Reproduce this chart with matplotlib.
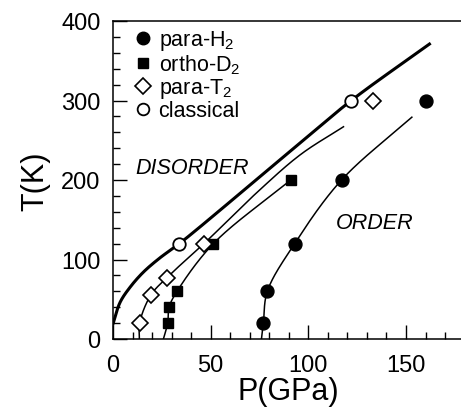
import numpy as np
import matplotlib.pyplot as plt
from matplotlib.lines import Line2D

plt.rcParams['font.family'] = 'Liberation Sans'
plt.rcParams['mathtext.fontset'] = 'custom'
plt.rcParams['mathtext.rm'] = 'Liberation Sans'
plt.rcParams['mathtext.it'] = 'Liberation Sans:italic'

# measured transition points (P in GPa, T in K)
p_h2 = [77, 79, 93, 117, 160]
t_h2 = [20, 60, 120, 200, 300]
p_d2 = [28, 28.7, 32.8, 51.4, 91]
t_d2 = [20, 40, 60, 120, 200]
p_t2 = [13.6, 19.3, 27.5, 46.6, 133]
t_t2 = [20, 55, 77, 120, 300]
p_cl = [34, 122]
t_cl = [120, 300]

# guide curves
curve_h2_p = [76, 77, 79, 93, 117, 153]
curve_h2_t = [0, 20, 60, 120, 200, 279]
curve_d2_p = [25.8, 28, 28.7, 32.8, 51.4, 91]
curve_d2_t = [0, 20, 40, 60, 120, 200]
curve_t2_p = [13.5, 13.6, 19.3, 27.5, 46.6, 74, 96, 118]
curve_t2_t = [0, 20, 55, 77, 120, 185, 232, 267]
curve_cl_p = [0, 3.6, 8.7, 15.5, 24, 34, 65, 95, 122, 162]
curve_cl_t = [19, 46, 65, 84, 102, 120, 183, 245, 300, 371]


def smooth(xs, ys, sy=0.41, n=40):
    # centripetal Catmull-Rom through the knots
    pts = np.column_stack([xs, np.asarray(ys, float) * sy])
    p = np.vstack([2 * pts[0] - pts[1], pts, 2 * pts[-1] - pts[-2]])
    out = []
    for i in range(1, len(p) - 2):
        p0, p1, p2, p3 = p[i - 1], p[i], p[i + 1], p[i + 2]
        t0 = 0.0
        t1 = t0 + np.linalg.norm(p1 - p0) ** 0.5
        t2 = t1 + np.linalg.norm(p2 - p1) ** 0.5
        t3 = t2 + np.linalg.norm(p3 - p2) ** 0.5
        t = np.linspace(t1, t2, n)[:, None]
        a1 = (t1 - t) / (t1 - t0) * p0 + (t - t0) / (t1 - t0) * p1
        a2 = (t2 - t) / (t2 - t1) * p1 + (t - t1) / (t2 - t1) * p2
        a3 = (t3 - t) / (t3 - t2) * p2 + (t - t2) / (t3 - t2) * p3
        b1 = (t2 - t) / (t2 - t0) * a1 + (t - t0) / (t2 - t0) * a2
        b2 = (t3 - t) / (t3 - t1) * a2 + (t - t1) / (t3 - t1) * a3
        out.append((t2 - t) / (t2 - t1) * b1 + (t - t1) / (t2 - t1) * b2)
    c = np.vstack(out)
    return c[:, 0], c[:, 1] / sy


fig = plt.figure(figsize=(4.61, 4.10), dpi=100)
ax = fig.add_axes([113 / 461, 70 / 410, 351.6 / 461, 318 / 410])

ax.plot(*smooth(curve_cl_p, curve_cl_t), color='black', lw=2.2, zorder=2)
ax.plot(*smooth(curve_t2_p, curve_t2_t), color='black', lw=1.1, zorder=2)
ax.plot(*smooth(curve_d2_p, curve_d2_t), color='black', lw=1.1, zorder=2)
ax.plot(*smooth(curve_h2_p, curve_h2_t), color='black', lw=1.1, zorder=2)

ax.plot(p_h2, t_h2, 'o', color='black', ms=9.3, zorder=3)
ax.plot(p_d2, t_d2, 's', color='black', ms=7.6, zorder=3)
ax.plot(p_t2, t_t2, 'D', mfc='white', mec='black', mew=1.2, ms=8.6, zorder=3)
ax.plot(p_cl, t_cl, 'o', mfc='white', mec='black', mew=1.3, ms=9, zorder=3)

ax.text(11.3, 216, 'DISORDER', fontsize=15.5, style='italic', va='center')
ax.text(114, 146, 'ORDER', fontsize=15.5, style='italic', va='center')

handles = [
    Line2D([], [], ls='none', marker='o', color='black', ms=9),
    Line2D([], [], ls='none', marker='s', color='black', ms=7.2),
    Line2D([], [], ls='none', marker='D', mfc='white', mec='black', mew=1.2, ms=8.6),
    Line2D([], [], ls='none', marker='o', mfc='white', mec='black', mew=1.3, ms=8.4),
]
labels = ['para-H$_2$', 'ortho-D$_2$', 'para-T$_2$', 'classical']
ax.legend(handles, labels, loc='upper left', bbox_to_anchor=(0.05, 0.99),
          frameon=False, fontsize=15.5, handlelength=0.8, handletextpad=0.3,
          labelspacing=0.0, borderpad=0.2, borderaxespad=0)

ax.set_xlim(0, 180)
ax.set_ylim(0, 400)
ax.set_xticks([0, 50, 100, 150])
ax.set_xticks(np.arange(0, 181, 10), minor=True)
ax.set_yticks([0, 100, 200, 300, 400])
ax.set_yticks(np.arange(0, 401, 20), minor=True)
ax.tick_params(which='both', direction='in', top=False, right=False,
               width=1, labelsize=17)
ax.tick_params(which='major', length=10)
ax.tick_params(axis='x', which='major', pad=11)
ax.tick_params(axis='y', which='major', pad=9)
ax.tick_params(which='minor', length=5)
for s in ax.spines.values():
    s.set_linewidth(1.1)

ax.set_xlabel('P(GPa)', fontsize=22, labelpad=0)
ax.set_ylabel('T(K)', fontsize=22, labelpad=8)

fig.savefig('out.png', dpi=100)
